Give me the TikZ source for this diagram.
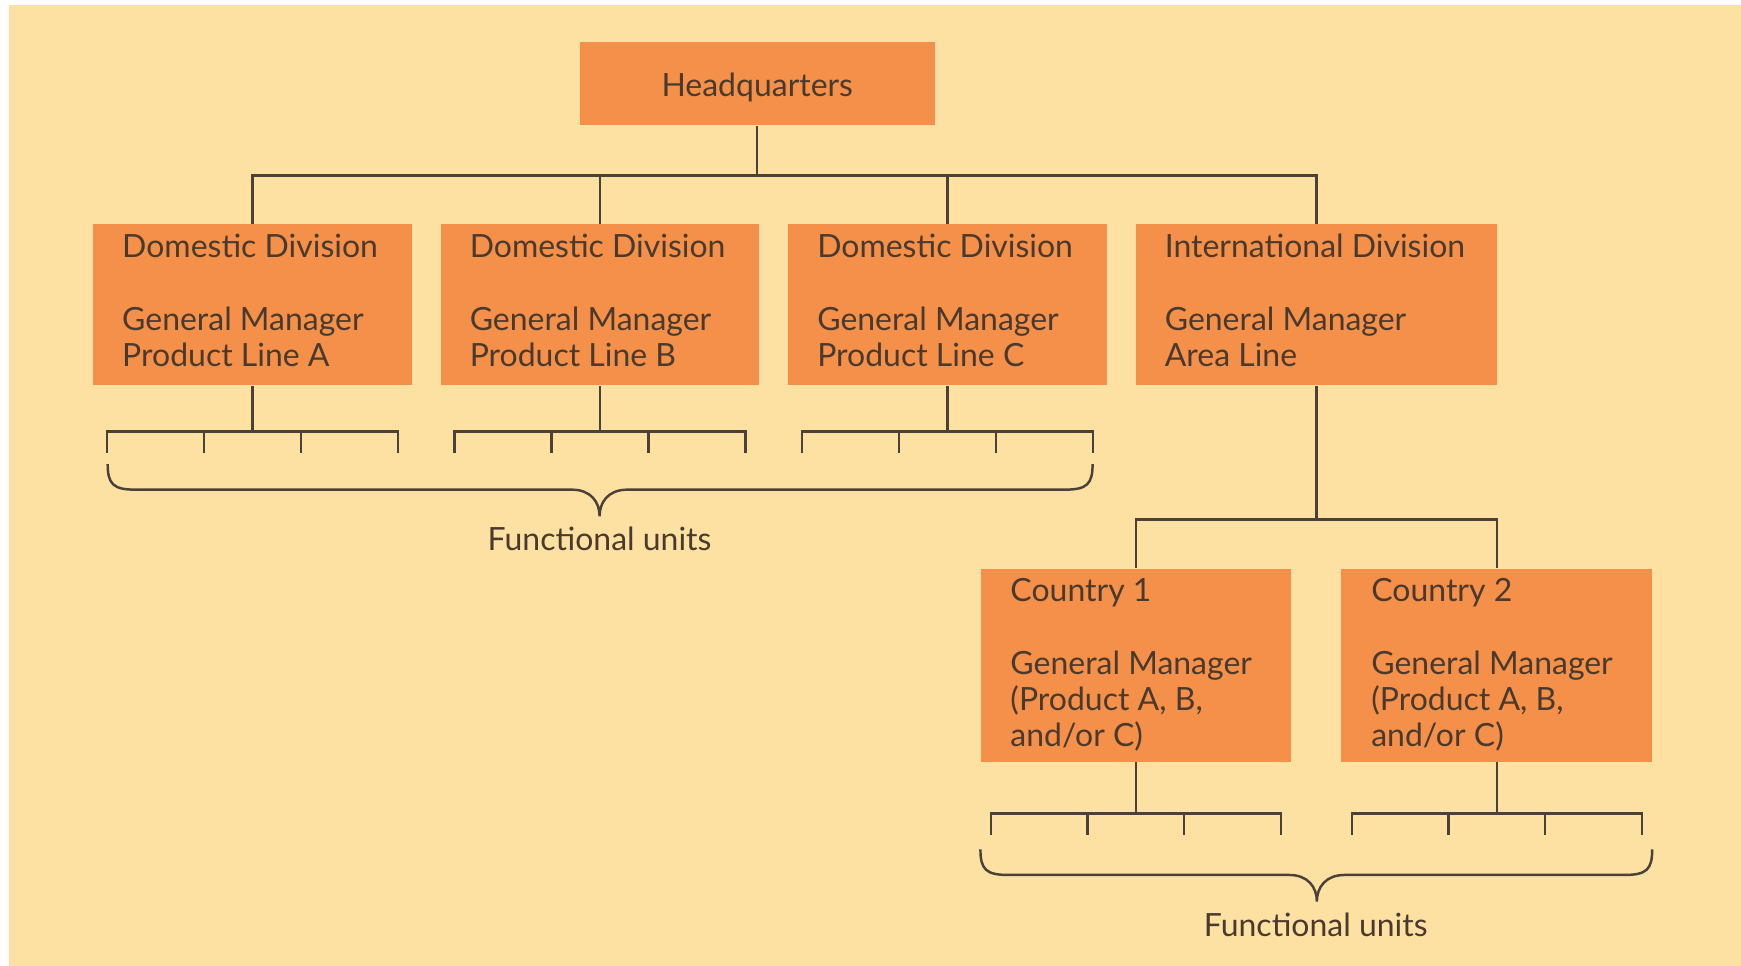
\documentclass[tikz,border=0pt]{standalone}
\usepackage{fontspec}
\setmainfont{Lato}
\usetikzlibrary{calc}

\definecolor{bgcream}{HTML}{FDE1A3}
\definecolor{boxorange}{HTML}{F4904A}
\definecolor{inkbrown}{HTML}{4A3A2E}
\definecolor{lineink}{HTML}{4B4136}

% invisible strut that gives the last line a little depth
\newcommand\tailgap{\rule[-2.6pt]{0pt}{0pt}}

% drop line from a box to its bracket of four functional units
\newcommand\unitbar[3]{% #1 node, #2 drop length, #3 side inset
  \draw[link] (#1.south) -- ++(0,#2);
  \path ($(#1.south west)+(#3,#2)$) coordinate (#1-l)
        ($(#1.south east)+(-#3,#2)$) coordinate (#1-r);
  \draw[link] (#1-l) ++(0,19) -- (#1-l) -- (#1-r) -- ++(0,19);
  \draw[link] ($(#1-l)!1/3!(#1-r)$) -- ++(0,19);
  \draw[link] ($(#1-l)!2/3!(#1-r)$) -- ++(0,19);
}

\begin{document}
\begin{tikzpicture}[
  x=0.011103cm, y=-0.011103cm,
  link/.style={draw=lineink, line width=0.7pt},
  box/.style={fill=boxorange, draw=none, text=inkbrown, inner sep=0pt,
    font=\fontsize{9.1}{10.3}\selectfont, align=flush left},
  ubox/.style={box, minimum width=3.187cm, minimum height=1.610cm, text width=2.609cm},
  cbox/.style={box, minimum width=3.109cm, minimum height=1.932cm, text width=2.509cm},
  caption/.style={text=inkbrown, font=\fontsize{9.1}{10.3}\selectfont, inner sep=0pt}
]
\useasboundingbox (0,0) rectangle (1568,870);
\fill[bgcream] (8.1,4.5) rectangle (1568,870);

% top of the hierarchy
\node[box, minimum width=3.553cm, minimum height=0.833cm, align=center,
  text height=9.2pt, text depth=1.9pt] (hq) at (682,75.5) {Headquarters};

% divisions
\node[ubox] (d1) at (227.5,274.5) {Domestic Division\\[\baselineskip]General Manager\\Product Line A\tailgap};
\node[ubox] (d2) at (540.5,274.5) {Domestic Division\\[\baselineskip]General Manager\\Product Line B\tailgap};
\node[ubox] (d3) at (853.5,274.5) {Domestic Division\\[\baselineskip]General Manager\\Product Line C\tailgap};
\node[box, minimum width=3.608cm, minimum height=1.610cm, text width=3.031cm] (intl) at (1185.5,274.5)
  {International Division\\[\baselineskip]General Manager\\Area Line\tailgap};

% countries under the international division
\node[cbox] (c1) at (1023,599) {Country 1\\[\baselineskip]General Manager\\(Product A, B,\\and/or C)};
\node[cbox] (c2) at (1348,599) {Country 2\\[\baselineskip]General Manager\\(Product A, B,\\and/or C)};

% headquarters to divisions
\coordinate (bus) at (681,158);
\draw[link] (hq.south) -- (hq.south |- bus);
\draw[link] (d1.north) -- (d1.north |- bus) -- (intl.north |- bus) -- (intl.north);
\draw[link] (d2.north) -- (d2.north |- bus);
\draw[link] (d3.north) -- (d3.north |- bus);

% international division to countries
\coordinate (ibus) at (1186,468);
\draw[link] (intl.south) -- (intl.south |- ibus);
\draw[link] (c1.north) -- (c1.north |- ibus) -- (c2.north |- ibus) -- (c2.north);

% functional units
\unitbar{d1}{41}{13}
\unitbar{d2}{41}{13}
\unitbar{d3}{41}{13}
\unitbar{c1}{46}{10}
\unitbar{c2}{46}{10}

% braces grouping the functional units
\coordinate (b1l) at (97,418);
\coordinate (b1r) at (984,418);
\coordinate (b1t) at (540,465);
\draw[link] (b1l) .. controls ($(b1l)+(0,18)$) and ($(b1l)+(5,23)$) .. ($(b1l)+(25,23)$)
  -- ($(b1t)+(-25,-24)$) .. controls ($(b1t)+(-8,-24)$) and ($(b1t)+(0,-13)$) .. (b1t)
  .. controls ($(b1t)+(0,-13)$) and ($(b1t)+(8,-24)$) .. ($(b1t)+(25,-24)$)
  -- ($(b1r)+(-25,23)$) .. controls ($(b1r)+(-5,23)$) and ($(b1r)+(0,18)$) .. (b1r);
\node[caption] (fu1) at (540,485) {Functional units};

\coordinate (b2l) at (883,765);
\coordinate (b2r) at (1488,765);
\coordinate (b2t) at (1186,812);
\draw[link] (b2l) .. controls ($(b2l)+(0,18)$) and ($(b2l)+(5,23)$) .. ($(b2l)+(25,23)$)
  -- ($(b2t)+(-25,-24)$) .. controls ($(b2t)+(-8,-24)$) and ($(b2t)+(0,-13)$) .. (b2t)
  .. controls ($(b2t)+(0,-13)$) and ($(b2t)+(8,-24)$) .. ($(b2t)+(25,-24)$)
  -- ($(b2r)+(-25,23)$) .. controls ($(b2r)+(-5,23)$) and ($(b2r)+(0,18)$) .. (b2r);
\node[caption] (fu2) at (1185,833) {Functional units};
\end{tikzpicture}
\end{document}
